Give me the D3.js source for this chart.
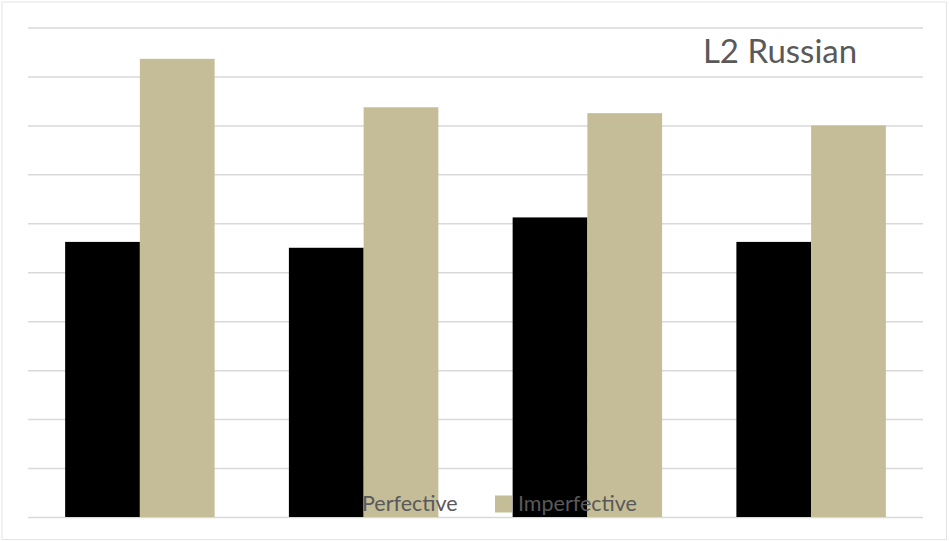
<!DOCTYPE html>
<html>
<head>
<meta charset="utf-8">
<script src="https://cdn.jsdelivr.net/npm/d3@7"></script>
<style>
  html, body { margin: 0; padding: 0; background: #fff; }
  svg { display: block; }
</style>
</head>
<body>
<svg id="chart" width="949" height="542"></svg>
<script>
const categories = ["A", "B", "C", "D"];
const seriesNames = ["Perfective", "Imperfective"];
const perfective = [56.2, 55.0, 61.2, 56.2];
const imperfective = [93.6, 83.7, 82.5, 80.0];
const yTicks = [0, 10, 20, 30, 40, 50, 60, 70, 80, 90, 100];
const title = "L2 Russian";
const colors = ["#000000", "#c4bd97"];

const svg = d3.select("#chart");
const W = 949, H = 542;
const plot = { left: 28, right: 923, top: 27.5, bottom: 517 };

svg.append("rect").attr("x", 2).attr("y", 2).attr("width", W - 4.5).attr("height", H - 4.5)
  .attr("fill", "#fff").attr("stroke", "#e3e3e3").attr("stroke-width", 1);

const x0 = d3.scaleBand().domain(categories).range([plot.left, plot.right]).paddingInner(0).paddingOuter(0);
const groupPad = 0.166;
const x1 = d3.scaleBand().domain(seriesNames)
  .range([x0.bandwidth() * groupPad, x0.bandwidth() * (1 - groupPad)]).padding(0);
const y = d3.scaleLinear().domain([0, 100]).range([plot.bottom, plot.top]);

// gridlines
const yAxis = d3.axisLeft(y).tickValues(yTicks).tickSize(-(plot.right - plot.left)).tickFormat("");
const gAxis = svg.append("g").attr("transform", `translate(${plot.left},0)`).call(yAxis);
gAxis.select(".domain").remove();
gAxis.selectAll(".tick line").attr("stroke", "#d9d9d9").attr("stroke-width", 1.5);

const data = categories.map((c, i) => ({ cat: c, vals: [perfective[i], imperfective[i]] }));
const groups = svg.append("g").selectAll("g").data(data).join("g")
  .attr("transform", d => `translate(${x0(d.cat)},0)`);
groups.selectAll("rect").data(d => d.vals.map((v, j) => ({ s: seriesNames[j], v, j })))
  .join("rect")
  .attr("x", d => x1(d.s))
  .attr("width", x1.bandwidth())
  .attr("y", d => y(d.v))
  .attr("height", d => y(0) - y(d.v))
  .attr("fill", d => colors[d.j]);

// title
svg.append("text").attr("x", 780).attr("y", 62.5).attr("text-anchor", "middle")
  .attr("font-family", "Lato, 'Open Sans', sans-serif").attr("font-size", 33)
  .attr("fill", "#595959").text(title);

// legend
const legendItems = [
  { name: seriesNames[0], color: colors[0], sx: 339, tx: 362 },
  { name: seriesNames[1], color: colors[1], sx: 495, tx: 518 }
];
const lg = svg.append("g");
legendItems.forEach(it => {
  lg.append("rect").attr("x", it.sx).attr("y", 495.5).attr("width", 17).attr("height", 17).attr("fill", it.color);
  lg.append("text").attr("x", it.tx).attr("y", 510.5)
    .attr("font-family", "Lato, 'Open Sans', sans-serif").attr("font-size", 21.5)
    .attr("fill", "#595959").text(it.name);
});
</script>
</body>
</html>
